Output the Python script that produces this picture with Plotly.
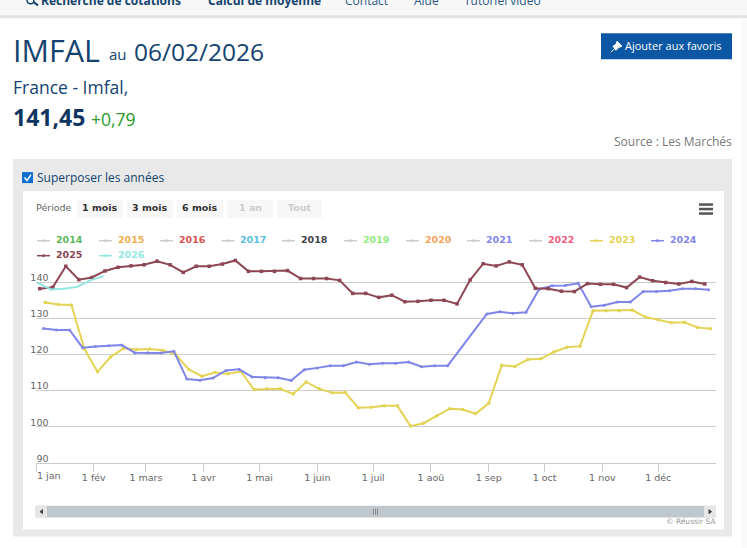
import pandas as pd
import plotly.graph_objects as go

W, H = 747, 548
L, R, T, B = 36, 716, 246, 463.3

legend_years = ["2014", "2015", "2016", "2017", "2018", "2019", "2020", "2021", "2022", "2023", "2024", "2025", "2026"]
legend_text_colors = ["#5cb85c", "#f0ad4e", "#d9534f", "#5bc0de", "#434348", "#90ed7d", "#f7a35c", "#8085e9",
                      "#f15c80", "#e4d354", "#8085e9", "#8d4653", "#91e8e1"]
legend_line_colors = ["#cccccc"] * 9 + ["#e4d354", "#8085e9", "#8d4653", "#91e8e1"]
legend_x = [37, 99, 160, 221.5, 282, 344, 406, 467, 529, 590, 651, 37, 99]
legend_y = [240.7] * 11 + [255.7] * 2

values_2023 = [134.4, 133.8, 133.7, 121.5, 115.2, 119.3, 121.7, 121.4, 121.5, 121.2, 120.0, 115.9, 114.0,
               115.0, 114.7, 115.3, 110.3, 110.5, 110.5, 109.1, 112.4, 110.5, 109.4, 109.5, 105.3, 105.4,
               105.8, 105.8, 100.2, 101.0, 103.0, 105.0, 104.8, 103.6, 106.5, 117.0, 116.7, 118.6, 118.8,
               120.7, 122.0, 122.3, 132.1, 132.1, 132.1, 132.3, 130.4, 129.6, 128.8, 128.9, 127.5, 127.1]
values_2024 = [127.2, 126.8, 126.8, 121.9, 122.2, 122.4, 122.6, 120.5, 120.5, 120.4, 120.9, 113.2, 112.9,
               113.5, 115.6, 115.9, 113.8, 113.6, 113.6, 112.8, 115.8, 116.3, 116.9, 116.9, 117.9, 117.3,
               117.6, 117.6, 117.9, 116.6, 116.9, 116.9, None, None, 131.2, 131.8, 131.4, 131.7, 138.0,
               139.0, 139.1, 139.7, 133.2, 133.6, 134.5, 134.5, 137.4, 137.4, 137.6, 138.2, 138.2, 137.9]
values_2025 = [138.2, 138.6, 144.4, 140.7, 141.3, 143.1, 144.1, 144.5, 144.8, 145.8, 144.8, 142.7, 144.4,
               144.4, 145.0, 146.0, 143.0, 143.0, 143.0, 143.2, 141.0, 141.0, 141.0, 140.5, 136.9, 136.9,
               135.8, 136.4, 134.6, 134.7, 135.0, 135.0, 134.0, 140.6, 145.1, 144.5, 145.6, 144.8, 138.3,
               138.2, 137.5, 137.4, 139.6, 139.4, 139.4, 138.5, 141.4, 140.4, 139.9, 139.5, 140.2, 139.5]
values_2026 = [139.8, 138.0, 138.2, 138.7, 140.5, 141.6]

tick_dates = ["2023-01-01", "2023-02-01", "2023-03-01", "2023-04-01", "2023-05-01", "2023-06-01",
              "2023-07-01", "2023-08-01", "2023-09-01", "2023-10-01", "2023-11-01", "2023-12-01"]
tick_labels = ["", "1 fév", "1 mars", "1 avr", "1 mai", "1 juin", "1 juil", "1 aoû", "1 sep", "1 oct", "1 nov", "1 déc"]
y_ticks = [90, 100, 110, 120, 130, 140, 150]
y_labels = ["90", "100", "110", "120", "130", "140", ""]

CHART_FONT = "DejaVu Sans"
PAGE_FONT = "Open Sans"


def fx(px):
    return (px - L) / (R - L)


def fy(py):
    return (B - py) / (B - T)


fig = go.Figure()


def add_series(year, first, vals, col, sym, size):
    fig.add_trace(go.Scatter(x=pd.date_range(first, periods=len(vals), freq="7D"), y=vals, name=year,
                             mode="lines+markers", connectgaps=True, showlegend=False,
                             line=dict(color=col, width=2), marker=dict(color=col, size=size, symbol=sym)))


add_series("2023", "2023-01-06", values_2023, "#e4d354", "circle", 3.5)
add_series("2024", "2023-01-05", values_2024, "#8085e9", "circle", 3)
add_series("2025", "2023-01-03", values_2025, "#8d4653", "square", 3.5)
add_series("2026", "2023-01-02", values_2026, "#91e8e1", "circle", 2)

shapes = []
annots = []


def rect(x0, y0, x1, y1, fill, line=None):
    shapes.append(dict(type="rect", xref="paper", yref="paper", x0=fx(x0), x1=fx(x1), y0=fy(y0), y1=fy(y1),
                       fillcolor=fill, line=dict(color=line or fill, width=0 if line is None else 1), layer="below"))


def seg(pts, col, w=1, fill=None):
    d = "M" + " L".join(f"{fx(a):.5f},{fy(b):.5f}" for a, b in pts)
    if fill:
        d += " Z"
    shapes.append(dict(type="path", xref="paper", yref="paper", path=d, line=dict(color=col, width=w),
                       fillcolor=fill, layer="above"))


def text(px, py, s, size, col, anchor="left", bold=False, font=PAGE_FONT):
    annots.append(dict(xref="paper", yref="paper", x=fx(px), y=fy(py - 1), text=f"<b>{s}</b>" if bold else s,
                       showarrow=False, xanchor=anchor, yanchor="middle", borderpad=0, borderwidth=0,
                       font=dict(family=font, size=size, color=col)))


NAVY = "#14436f"
# top navigation bar
rect(0, 0, W, 15, "#f7f7f7")
rect(0, 15, W, 18, "#e2e2e2")
rect(741.5, 18, W, H, "#fafafa")
text(41, 1, "Recherche de cotations", 12, NAVY, bold=True)
text(208, 1, "Calcul de moyenne", 12, NAVY, bold=True)
text(345, 1, "Contact", 12, "#2c5a88")
text(414, 1, "Aide", 12, "#2c5a88")
text(464, 1, "Tutoriel vidéo", 12, "#2c5a88")
seg([(34, 2), (38, 5)], NAVY, 2)
shapes.append(dict(type="circle", xref="paper", yref="paper", x0=fx(27), x1=fx(34), y0=fy(-3), y1=fy(3.5),
                   line=dict(color=NAVY, width=1.5)))

# header
text(13, 51, "IMFAL", 30.5, NAVY)
text(108.5, 55, "au", 15, NAVY)
text(133.5, 52, "06/02/2026", 24.5, NAVY)
text(13, 88, "France - Imfal,", 17.5, NAVY)
text(13, 118, "141,45", 23, "#0f3560", bold=True)
text(91, 120, "+0,79", 17.5, "#2a9a2a")
text(732, 142, "Source : Les Marchés", 12, "#777777", anchor="right")

rect(601, 33, 732, 59, "#0b57a4")
seg([(611, 52), (616, 47)], "#ffffff", 1)
seg([(617, 41), (622, 46), (619, 47), (616, 50), (613, 46), (616, 44)], "#ffffff", 1, "#ffffff")
text(625, 46, "Ajouter aux favoris", 11, "#ffffff")

# chart panel
rect(13, 159, 732, 537, "#e9e9e9")
rect(23, 191, 724, 530, "#ffffff")
rect(22, 172, 33, 183, "#0f6fd1")
seg([(24.5, 177.5), (27, 180.5), (31, 174.5)], "#ffffff", 1.5)
text(37, 178, "Superposer les années", 12, NAVY)

# range selector
text(36, 208, "Période", 9.5, "#666666", font=CHART_FONT)
for x0, x1, label, active in [(77, 123, "1 mois", True), (127, 173, "3 mois", True), (177, 223, "6 mois", True),
                              (227, 273, "1 an", False), (277, 322, "Tout", False)]:
    rect(x0, 200, x1, 218, "#f7f7f7")
    text((x0 + x1) / 2, 208.5, label, 9.5, "#333333" if active else "#cccccc", anchor="center", bold=True, font=CHART_FONT)

# context menu icon
for yy in (204.5, 209, 213.5):
    seg([(699, yy), (713, yy)], "#555555", 2.5)

# legend
for year, tcol, lcol, lx, ly in zip(legend_years, legend_text_colors, legend_line_colors, legend_x, legend_y):
    seg([(lx, ly), (lx + 13, ly)], lcol, 1.5)
    mid = lx + 6.5
    seg([(mid - 1, ly - 1), (mid + 1, ly - 1), (mid + 1, ly + 1), (mid - 1, ly + 1)], lcol, 0.5, lcol)
    text(lx + 18.5, ly, year, 9.5, tcol, bold=True, font=CHART_FONT)

# first x label, pushed inside the chart as in the original
text(36.5, 477, "1 jan", 9.5, "#666666", font=CHART_FONT)

# scrollbar
rect(35, 506, 716, 518, "#c0c7cd")
rect(35, 506, 47, 518, "#e6e6e6")
rect(704, 506, 716, 518, "#e6e6e6")
seg([(42.5, 510), (42.5, 514), (40, 512)], "#444444", 1, "#444444")
seg([(709, 510), (709, 514), (711.5, 512)], "#444444", 1, "#444444")
for xx in (373.5, 375.5, 377.5):
    seg([(xx, 509), (xx, 515)], "#888888", 1)
text(716, 523, "© Réussir SA", 7.5, "#999999", anchor="right", font=CHART_FONT)

fig.update_layout(
    autosize=False, width=W, height=H,
    margin=dict(l=L, r=W - R, t=T, b=H - B, pad=0),
    paper_bgcolor="#ffffff", plot_bgcolor="rgba(0,0,0,0)",
    showlegend=False,
    shapes=shapes, annotations=annots,
    xaxis=dict(type="date", range=["2023-01-01", "2024-01-01"], tickmode="array", tickvals=tick_dates,
               ticktext=tick_labels, ticks="outside", ticklen=8, tickcolor="#cccccc", showgrid=False,
               showline=True, linecolor="#cccccc", linewidth=1, zeroline=False, ticklabelstandoff=-2,
               tickfont=dict(family=CHART_FONT, size=9.5, color="#666666")),
    yaxis=dict(range=[90, 150], tickmode="array", tickvals=y_ticks, ticktext=y_labels, anchor="free",
               position=fx(48.5), ticklabelposition="outside top", ticks="", showline=False, zeroline=False,
               showgrid=True, gridcolor="#cccccc", gridwidth=1, ticklabelshift=2,
               tickfont=dict(family=CHART_FONT, size=9.5, color="#666666")),
    hovermode=False,
)

fig.write_html("out.html", config=dict(displayModeBar=False),
               post_script="document.body.style.margin='0';document.documentElement.style.overflow='hidden';")
